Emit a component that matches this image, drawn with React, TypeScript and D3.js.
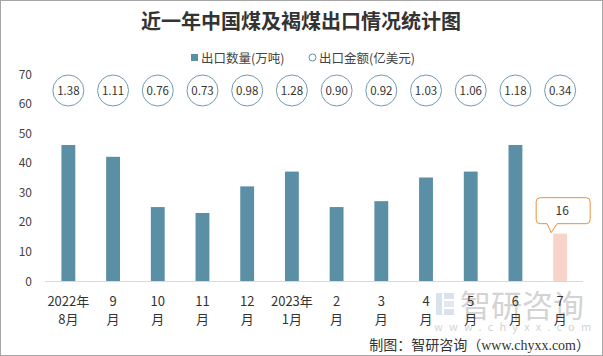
import React from "react";
import * as d3 from "d3";

const line1 = ["2022年", "9", "10", "11", "12", "2023年", "2", "3", "4", "5", "6", "7"];
const line2 = ["8月", "月", "月", "月", "月", "1月", "月", "月", "月", "月", "月", "月"];
const quantity = [46, 42, 25, 23, 32, 37, 25, 27, 35, 37, 46, 16];
const amount = ["1.38", "1.11", "0.76", "0.73", "0.98", "1.28", "0.90", "0.92", "1.03", "1.06", "1.18", "0.34"];
const yTicks = [0, 10, 20, 30, 40, 50, 60, 70];

const W = 603, H = 356;
const BLUE = "#5B8FA6";
const PINK = "#F8D3CA";
const ORANGE = "#E8913A";
const FONT = "'Microsoft YaHei','Noto Sans CJK SC','Noto Sans',sans-serif";

export default function App() {
  const idx = quantity.map((_, i) => String(i));
  const x = d3.scaleBand<string>().domain(idx).range([46, 582.5]).paddingInner(0.69).paddingOuter(0.345);
  const y = d3.scaleLinear().domain([0, 70]).range([281, 74]);
  const bw = x.bandwidth();
  const cx = (i: number) => (x(String(i)) as number) + bw / 2;
  const last = quantity.length - 1;
  const lx = cx(last);
  const ly = y(quantity[last]);

  return (
    <svg width={W} height={H} style={{ position: "absolute", left: 0, top: 0, background: "#fff" }} fontFamily={FONT}>
      <rect x={0.5} y={0.5} width={W - 1} height={H - 1} fill="#fff" stroke="#a6a6a6" />
      <text x={301} y={29} textAnchor="middle" fontSize={20} fontWeight="bold" fill="#333" fontFamily="'Noto Sans CJK SC',serif">
        近一年中国煤及褐煤出口情况统计图
      </text>
      {/* legend */}
      <rect x={191} y={54} width={7} height={7} fill={BLUE} />
      <text x={201} y={62.5} fontSize={12.5} fill="#444">出口数量(万吨)</text>
      <circle cx={312.5} cy={57.5} r={3.5} fill="none" stroke={BLUE} strokeWidth={1} />
      <text x={319} y={62.5} fontSize={12.5} fill="#444">出口金额(亿美元)</text>
      {/* y ticks */}
      {yTicks.map((t) => (
        <text key={t} x={32} y={y(t) + 4.5} textAnchor="end" fontSize={12} fill="#444">{t}</text>
      ))}
      {/* watermark */}
      <g opacity={0.55}>
        <rect x={436} y={293} width={6} height={22} fill="#b9cde0" />
        <rect x={444} y={293} width={10} height={6} fill="#b9cde0" />
        <rect x={444} y={301} width={10} height={6} fill="#c9d7e5" />
        <rect x={444} y={309} width={10} height={6} fill="#b9cde0" />
        <text x={460} y={317} fontSize={31} fill="#b0b0b0" fontFamily="'Noto Sans CJK SC',sans-serif">智研咨询</text>
        <text x={434} y={331} fontSize={11} fill="#b0b0b0" letterSpacing={6.2}>www.chyxx.com</text>
      </g>
      {/* bars */}
      {quantity.map((v, i) => (
        <rect key={i} x={x(String(i))} y={y(v)} width={bw} height={y(0) - y(v)} fill={i === last ? PINK : BLUE} />
      ))}
      <line x1={45} x2={583} y1={281.5} y2={281.5} stroke="#d9d9d9" strokeWidth={1} />
      {/* circles */}
      {amount.map((a, i) => (
        <g key={i}>
          <circle cx={cx(i)} cy={90.5} r={15.5} fill="#fff" stroke="#6f9bb2" strokeWidth={1} />
          <text x={cx(i)} y={94.5} textAnchor="middle" fontSize={11.5} fill="#333">{a}</text>
        </g>
      ))}
      {/* x labels */}
      {line1.map((t, i) => (
        <g key={i}>
          <text x={cx(i)} y={306} textAnchor="middle" fontSize={13} fill="#333">{t}</text>
          <text x={cx(i)} y={324} textAnchor="middle" fontSize={13} fill="#333">{line2[i]}</text>
        </g>
      ))}
      {/* callout */}
      <path
        d={`M${lx - 20},${ly - 36} h46 a4,4 0 0 1 4,4 v18 a4,4 0 0 1 -4,4 H${lx - 3} L${lx - 9},${ly - 1} L${lx - 13},${ly - 10} H${lx - 20} a4,4 0 0 1 -4,-4 v-18 a4,4 0 0 1 4,-4 Z`}
        fill="#fff"
        stroke={ORANGE}
        strokeWidth={1}
      />
      <text x={lx + 2} y={ly - 19} textAnchor="middle" fontSize={12} fill="#333">{quantity[last]}</text>
      {/* footer */}
      <text x={590} y={350} textAnchor="end" fontSize={14} fill="#333" fontFamily="'Liberation Serif','Noto Sans CJK SC',serif">
        制图：智研咨询（www.chyxx.com）
      </text>
    </svg>
  );
}
